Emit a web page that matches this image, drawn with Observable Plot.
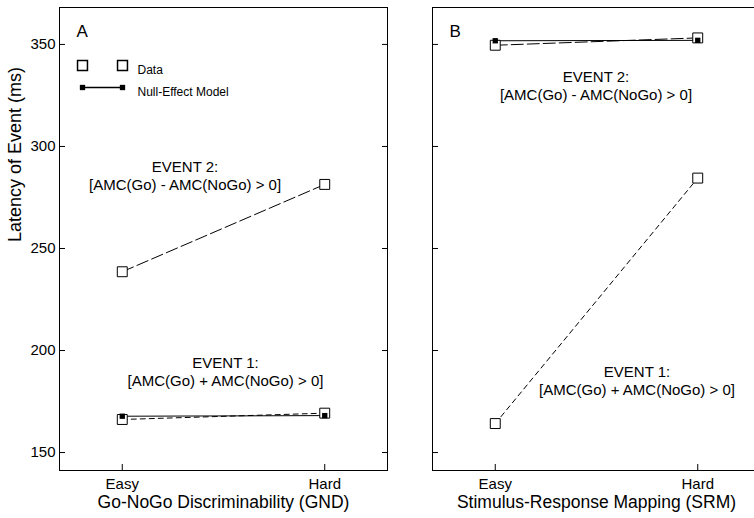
<!DOCTYPE html>
<html><head><meta charset="utf-8">
<script src="https://cdn.jsdelivr.net/npm/d3@7"></script>
<script src="https://cdn.jsdelivr.net/npm/@observablehq/plot@0.6"></script>
<style>
html,body{margin:0;padding:0;background:#fff;overflow:hidden;width:754px;height:518px}
#wrap{position:relative;width:754px;height:518px;overflow:hidden}
#a,#b{position:absolute;top:0}
#a{left:0;width:400px}
#b{left:400px;width:362px}
svg{max-width:none !important;display:block}
</style></head><body><div id="wrap"><div id="a"></div><div id="b"></div></div>
<script>
const conditions = ["Easy", "Hard"];
const yTicks = [150, 200, 250, 300, 350];
const gndEvent1Data = [166.2, 169.3];
const gndEvent1Model = [167.8, 168.1];
const gndEvent2Data = [238.6, 281.4];
const srmEvent1Data = [164.2, 284.5];
const srmEvent2Data = [349.6, 353.2];
const srmEvent2Model = [351.8, 352.0];
const xTitles = ["Go-NoGo Discriminability (GND)", "Stimulus-Response Mapping (SRM)"];
const yTitle = "Latency of Event (ms)";
const panelLabels = ["A", "B"];
const legendLabels = ["Data", "Null-Effect Model"];
const event1Label = "EVENT 1:\n[AMC(Go) + AMC(NoGo) > 0]";
const event2Label = "EVENT 2:\n[AMC(Go) - AMC(NoGo) > 0]";

const FONT = "'Liberation Sans', Arial, Helvetica, sans-serif";
const rows = (vals) => conditions.map((c, i) => ({x: i, y: vals[i], c}));
const lineSymbol = {draw(ctx) { ctx.moveTo(-20, 0); ctx.lineTo(20, 0); }};

function dataSeries(vals, dash) {
  return [
    Plot.line(rows(vals), {x: "x", y: "y", stroke: "black", strokeWidth: 1, strokeDasharray: dash})
  ];
}
function dataDots(vals) {
  return Plot.dot(rows(vals), {x: "x", y: "y", symbol: "square", r: 5.6, fill: "white", stroke: "black", strokeWidth: 1});
}
function modelSeries(vals) {
  return [
    Plot.line(rows(vals), {x: "x", y: "y", stroke: "black", strokeWidth: 1})
  ];
}
function modelDots(vals) {
  return Plot.dot(rows(vals), {x: "x", y: "y", symbol: "square", r: 3, fill: "black"});
}

function panel(opts) {
  const {width, marginLeft, marginRight, first, label, xTitle, marks} = opts;
  const all = [
    Plot.frame({stroke: "black", strokeWidth: 1}),
    Plot.axisY(yTicks, {anchor: "left", tickSize: -6, tickPadding: 10, label: null,
      tickFormat: first ? (d) => String(d) : () => "", fontSize: 15}),
    Plot.axisY(yTicks, {anchor: "right", tickSize: -6, label: null, tickFormat: () => ""}),
    Plot.axisX([0, 1], {anchor: "bottom", tickSize: -6, label: null, tickFormat: () => ""}),
    Plot.axisX([0, 1], {anchor: "bottom", tickSize: 0, tickPadding: 8, label: null,
      tickFormat: (i) => conditions[i], fontSize: 15}),
    Plot.text([xTitle], {frameAnchor: "bottom", dy: 37, fontSize: 17.5}),
    Plot.text([label], {frameAnchor: "top-left", dx: 17, dy: 17.5, textAnchor: "start", fontSize: 17}),
    ...(first ? [Plot.text([yTitle], {frameAnchor: "left", dx: -44, dy: 3, rotate: -90, fontSize: 18})] : []),
    ...marks
  ];
  return Plot.plot({
    width, height: 518, marginLeft, marginRight, marginTop: 7, marginBottom: 48,
    x: {domain: [-0.31, 1.31]},
    y: {domain: [141.2, 368.1]},
    style: {fontFamily: FONT, fontSize: "15px", color: "black", background: "white"},
    marks: all
  });
}

const legendMarks = [
  Plot.dot([legendLabels[0]], {frameAnchor: "top-left", dx: 23, dy: 58, symbol: "square", r: 5.6, fill: "white", stroke: "black"}),
  Plot.dot([legendLabels[0]], {frameAnchor: "top-left", dx: 63, dy: 58, symbol: "square", r: 5.6, fill: "white", stroke: "black"}),
  Plot.text([legendLabels[0]], {frameAnchor: "top-left", dx: 78, dy: 58, textAnchor: "start", fontSize: 12}),
  Plot.dot([legendLabels[1]], {frameAnchor: "top-left", dx: 43, dy: 80, symbol: lineSymbol, r: 5, fill: "none", stroke: "black"}),
  Plot.dot([legendLabels[1]], {frameAnchor: "top-left", dx: 23, dy: 80, symbol: "square", r: 3, fill: "black"}),
  Plot.dot([legendLabels[1]], {frameAnchor: "top-left", dx: 63, dy: 80, symbol: "square", r: 3, fill: "black"}),
  Plot.text([legendLabels[1]], {frameAnchor: "top-left", dx: 78, dy: 80, textAnchor: "start", fontSize: 12})
];

const panelA = panel({
  width: 400, marginLeft: 59, marginRight: 13, first: true, label: panelLabels[0], xTitle: xTitles[0],
  marks: [
    ...legendMarks,
    Plot.text([event2Label], {x: 0.31, y: 285.8, fontSize: 15, lineHeight: 1.2}),
    Plot.text([event1Label], {x: 0.51, y: 189.7, fontSize: 15, lineHeight: 1.2}),
    ...modelSeries(gndEvent1Model),
    ...dataSeries(gndEvent1Data, "5,4"),
    ...dataSeries(gndEvent2Data, "12,4"),
    dataDots(gndEvent1Data),
    dataDots(gndEvent2Data),
    modelDots(gndEvent1Model)
  ]
});

const panelB = panel({
  width: 362, marginLeft: 32, marginRight: 2, first: false, label: panelLabels[1], xTitle: xTitles[1],
  marks: [
    Plot.text([event2Label], {x: 0.4975, y: 329.9, fontSize: 15, lineHeight: 1.2}),
    Plot.text([event1Label], {x: 0.70, y: 185.3, fontSize: 15, lineHeight: 1.2}),
    ...modelSeries(srmEvent2Model),
    ...dataSeries(srmEvent2Data, "12,4"),
    ...dataSeries(srmEvent1Data, "5,4"),
    dataDots(srmEvent2Data),
    dataDots(srmEvent1Data),
    modelDots(srmEvent2Model)
  ]
});

document.getElementById("a").appendChild(panelA);
document.getElementById("b").appendChild(panelB);
</script>
</body></html>
